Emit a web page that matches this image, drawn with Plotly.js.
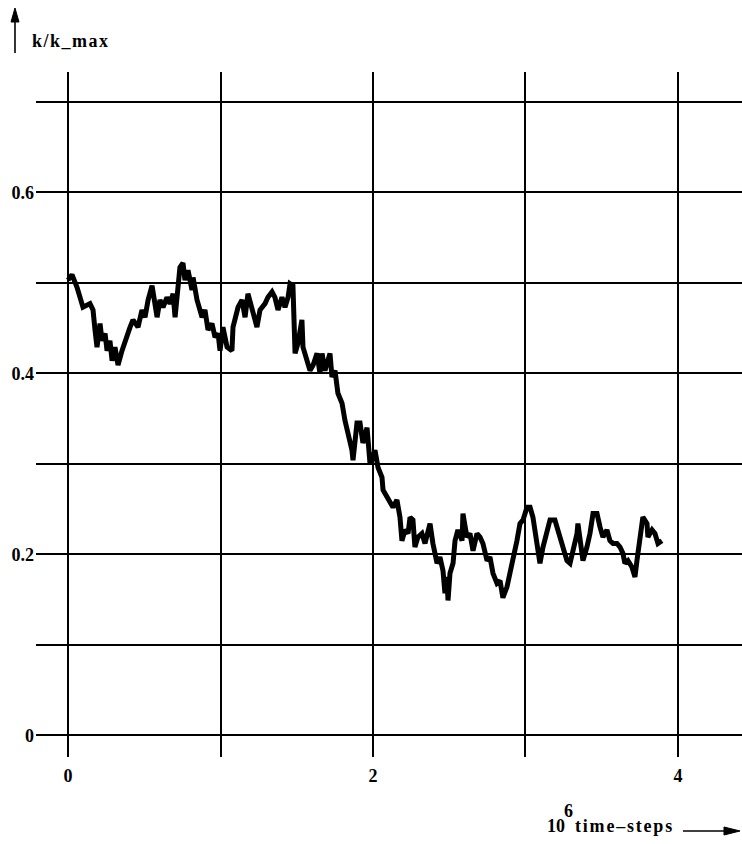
<!DOCTYPE html>
<html>
<head>
<meta charset="utf-8">
<script src="https://cdn.plot.ly/plotly-3.0.1.min.js"></script>
<style>html,body{margin:0;padding:0;background:#fff;}#chart{width:742px;height:844px;}</style>
</head>
<body>
<div id="chart"></div>
<script>
// time in 10^6 time-steps
var timeSteps = [
0.000,0.026,0.059,0.079,0.098,0.144,0.164,0.177,0.190,0.210,0.223,0.243,0.256,0.275,0.289,0.308,0.328,0.354,0.374,0.407,
0.426,0.459,0.485,0.505,0.525,0.551,0.584,0.603,0.623,0.649,0.669,0.689,0.702,0.721,0.734,0.754,0.767,0.787,0.813,0.820,
0.846,0.879,0.898,0.918,0.944,0.964,0.984,0.997,1.016,1.043,1.075,1.082,1.115,1.141,1.161,1.180,1.207,1.239,1.259,1.292,
1.311,1.338,1.357,1.377,1.403,1.423,1.443,1.456,1.475,1.482,1.489,1.508,1.534,1.541,1.567,1.587,1.607,1.633,1.652,1.666,
1.685,1.718,1.731,1.751,1.770,1.797,1.816,1.836,1.862,1.869,1.895,1.915,1.934,1.961,1.980,1.993,2.013,2.033,2.059,2.066,
2.092,2.111,2.131,2.157,2.177,2.190,2.210,2.230,2.243,2.262,2.275,2.295,2.321,2.341,2.361,2.374,2.393,2.420,2.439,2.459,
2.472,2.485,2.492,2.505,2.525,2.538,2.557,2.584,2.590,2.616,2.636,2.656,2.682,2.702,2.721,2.748,2.767,2.787,2.813,2.833,
2.852,2.879,2.898,2.918,2.944,2.964,2.984,3.010,3.030,3.049,3.075,3.095,3.115,3.141,3.161,3.193,3.213,3.239,3.259,3.272,
3.292,3.311,3.338,3.344,3.370,3.377,3.403,3.423,3.443,3.469,3.489,3.508,3.534,3.554,3.574,3.600,3.620,3.639,3.652,3.672,
3.698,3.718,3.731,3.751,3.764,3.770,3.797,3.803,3.830,3.849,3.869,3.895
];
// k / k_max
var kRatio = [
0.503,0.509,0.495,0.484,0.473,0.477,0.470,0.448,0.429,0.455,0.436,0.444,0.425,0.436,0.414,0.429,0.409,0.425,0.436,0.451,
0.459,0.451,0.470,0.462,0.481,0.497,0.462,0.481,0.473,0.484,0.477,0.488,0.462,0.488,0.517,0.522,0.503,0.514,0.492,0.506,
0.481,0.462,0.470,0.448,0.455,0.440,0.444,0.425,0.451,0.429,0.425,0.451,0.473,0.481,0.462,0.488,0.470,0.451,0.470,0.477,
0.484,0.490,0.484,0.470,0.484,0.473,0.484,0.499,0.497,0.459,0.422,0.433,0.459,0.429,0.414,0.403,0.409,0.422,0.400,0.422,
0.403,0.422,0.396,0.403,0.378,0.367,0.348,0.334,0.315,0.304,0.345,0.345,0.323,0.340,0.301,0.304,0.315,0.296,0.285,0.271,
0.263,0.260,0.252,0.260,0.241,0.215,0.227,0.223,0.241,0.238,0.208,0.219,0.223,0.212,0.227,0.234,0.212,0.190,0.197,0.182,
0.157,0.175,0.149,0.179,0.190,0.215,0.227,0.215,0.245,0.219,0.223,0.204,0.223,0.219,0.212,0.193,0.197,0.179,0.168,0.171,
0.152,0.164,0.179,0.193,0.215,0.234,0.238,0.252,0.252,0.241,0.208,0.190,0.208,0.223,0.238,0.238,0.227,0.208,0.197,0.193,
0.190,0.204,0.223,0.234,0.208,0.193,0.208,0.223,0.245,0.245,0.230,0.219,0.227,0.215,0.212,0.212,0.208,0.201,0.190,0.193,
0.186,0.175,0.193,0.219,0.234,0.241,0.234,0.219,0.227,0.223,0.212,0.215
];
var xTickVals = [0, 2, 4];
var xTickText = ['0', '2', '4'];
var xMinorVals = [1, 3];
var yTickVals = [0, 0.2, 0.4, 0.6];
var yTickText = ['0', '0.2', '0.4', '0.6'];
var yMinorVals = [0.1, 0.3, 0.5, 0.7];

var fam = '"Liberation Serif", "Times New Roman", serif';
var tf = {family: fam, size: 18, color: '#000', weight: 'bold'};

var trace = {
  x: timeSteps, y: kRatio, type: 'scatter', mode: 'lines',
  line: {color: '#000', width: 5}, hoverinfo: 'skip'
};

function axisCommon(range, tv, tt, mv, standoff) {
  return {
    range: range, tickmode: 'array', tickvals: tv, ticktext: tt,
    showgrid: true, gridcolor: '#000', gridwidth: 2, zeroline: false, showline: false,
    ticks: '', ticklabelstandoff: standoff, tickfont: tf,
    minor: {tickmode: 'array', tickvals: mv, showgrid: true, gridcolor: '#000', gridwidth: 2, ticks: ''}
  };
}

var layout = {
  width: 742, height: 844,
  margin: {l: 36, r: 0, t: 72, b: 87, pad: 0},
  paper_bgcolor: '#fff', plot_bgcolor: '#fff',
  showlegend: false,
  xaxis: axisCommon([-0.21, 4.42], xTickVals, xTickText, xMinorVals, 6),
  yaxis: axisCommon([-0.024, 0.733], yTickVals, yTickText, yMinorVals, 1),
  shapes: [
    {type: 'line', xref: 'paper', yref: 'paper', x0: -0.02975, x1: -0.02975, y0: 1.0277, y1: 1.078,
     line: {color: '#000', width: 1.6}},
    {type: 'path', xref: 'paper', yref: 'paper', path: 'M -0.02975 1.0934 L -0.0354 1.073 L -0.0241 1.073 Z',
     fillcolor: '#000', line: {color: '#000', width: 1}},
    {type: 'line', xref: 'paper', yref: 'paper', x0: 0.9164, x1: 0.978, y0: -0.108, y1: -0.108,
     line: {color: '#000', width: 1.6}},
    {type: 'path', xref: 'paper', yref: 'paper', path: 'M 0.9972 -0.108 L 0.9745 -0.1022 L 0.9745 -0.1139 Z',
     fillcolor: '#000', line: {color: '#000', width: 1}}
  ],
  annotations: [
    {xref: 'paper', yref: 'paper', x: -0.0085, y: 1.0453, xanchor: 'left', yanchor: 'middle',
     text: '<b><span style="letter-spacing:1.5px">k/k_max</span></b>', showarrow: false,
     font: {family: fam, size: 18, color: '#000'}},
    {xref: 'paper', yref: 'paper', x: 0.721, y: -0.1007, xanchor: 'left', yanchor: 'middle',
     text: '<b>10</b>', showarrow: false, font: {family: fam, size: 18, color: '#000'}},
    {xref: 'paper', yref: 'paper', x: 0.745, y: -0.0795, xanchor: 'left', yanchor: 'middle',
     text: '<b>6</b>', showarrow: false, font: {family: fam, size: 18, color: '#000'}},
    {xref: 'paper', yref: 'paper', x: 0.7606, y: -0.1007, xanchor: 'left', yanchor: 'middle',
     text: '<b><span style="letter-spacing:1.8px">time\u2013steps</span></b>', showarrow: false,
     font: {family: fam, size: 18, color: '#000'}}
  ]
};

Plotly.newPlot('chart', [trace], layout, {staticPlot: true, displayModeBar: false});
</script>
</body>
</html>
